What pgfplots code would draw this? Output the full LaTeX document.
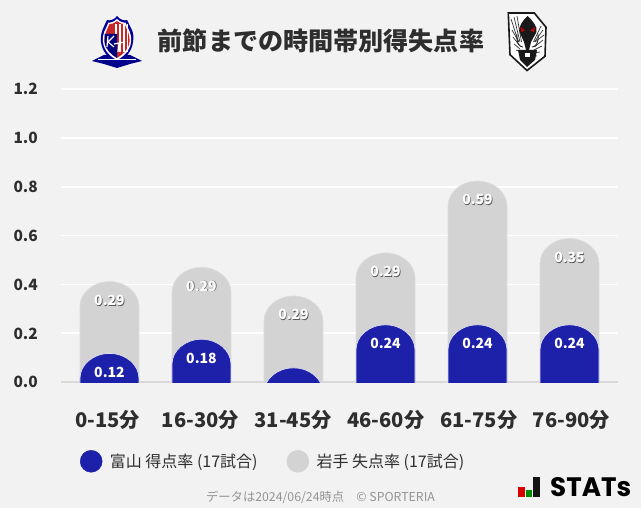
\documentclass[border=0pt]{standalone}
\usepackage{fontspec}
\usepackage{graphicx}
\usepackage{pgfplots}
\usepackage{pgfplotstable}
\pgfplotsset{compat=1.18}
\setmainfont{Noto Sans CJK JP}
\newfontfamily\logofont{Poppins}
\definecolor{bgc}{HTML}{F2F2F2}
\definecolor{bluec}{HTML}{1D20A8}
\definecolor{grayc}{HTML}{D3D3D3}
\definecolor{grayedge}{HTML}{DEDEDE}
\definecolor{txtc}{HTML}{2E2E2E}
\newcommand{\fs}[1]{\fontsize{#1pt}{#1pt}\selectfont}
\pgfplotstableread{
x goals conceded glabel clabel
0 0.118 0.294 0.12 0.29
1 0.176 0.294 0.18 0.29
2 0.059 0.294 {} 0.29
3 0.235 0.294 0.24 0.29
4 0.235 0.588 0.24 0.59
5 0.235 0.353 0.24 0.35
}\ratetable
% rounded-top bar whose top sits at the data point and whose foot sits on y=0
\newcommand{\defcapsule}[3]{%
\pgfdeclareplotmark{#1}{%
  \pgfmathsetlengthmacro{\hh}{\barh pt}%
  \begin{pgfscope}
    \pgfsetfillcolor{#2}\pgfsetstrokecolor{#3}\pgfsetlinewidth{0.7pt}%
    \pgfpathrectanglecorners{\pgfpoint{-31pt}{-\hh}}{\pgfpoint{31pt}{2pt}}%
    \pgfusepath{clip}%
    \pgfpathmoveto{\pgfpoint{-29.5pt}{-\hh-5pt}}%
    \pgfpathlineto{\pgfpoint{-29.5pt}{-25pt}}%
    \pgfpathcurveto{\pgfpoint{-29.5pt}{-11.2pt}}{\pgfpoint{-16.3pt}{0pt}}{\pgfpoint{0pt}{0pt}}%
    \pgfpathcurveto{\pgfpoint{16.3pt}{0pt}}{\pgfpoint{29.5pt}{-11.2pt}}{\pgfpoint{29.5pt}{-25pt}}%
    \pgfpathlineto{\pgfpoint{29.5pt}{-\hh-5pt}}%
    \pgfpathclose
    \pgfusepath{fill,stroke}%
  \end{pgfscope}%
}}
\defcapsule{capgray}{grayc}{grayedge}
\defcapsule{capblue}{bluec}{white!85!bluec}
\begin{document}
\begin{tikzpicture}[x=1pt,y=1pt]
\path[use as bounding box] (0,0) rectangle (641,508);
\fill[bgc] (0,0) rectangle (641,508);

\begin{axis}[
  at={(61pt,125.7pt)}, anchor=south west,
  scale only axis, width=557pt, height=293.4pt,
  xmin=-0.527, xmax=5.527, ymin=0, ymax=1.2,
  clip=false,
  axis x line=bottom, axis y line=left,
  axis line style={-},
  y axis line style={draw=none},
  x axis line style={draw=black!15, line width=1.6pt},
  tick style={draw=none},
  ymajorgrids, grid style={white, line width=1.8pt},
  ytick={0,0.2,0.4,0.6,0.8,1.0,1.2},
  yticklabel style={/pgf/number format/fixed, /pgf/number format/fixed zerofill,
    /pgf/number format/precision=1, /pgf/number format/assume math mode=true,
    font=\fs{15.5}\bfseries, text=txtc, xshift=-17.5pt},
  xtick={-0.022,0.987,1.995,3.004,4.013,5.022},
  xticklabels={0-15分,16-30分,31-45分,46-60分,61-75分,76-90分},
  xticklabel style={font=\fs{20.2}\bfseries, text=txtc, yshift=-22.5pt},
  legend columns=2,
  legend cell align=left,
  legend style={at={(19pt,-79pt)}, anchor=west, draw=none, fill=none,
    font=\fs{16}, text=txtc, inner sep=0pt, outer sep=0pt,
    /tikz/every even column/.append style={column sep=27pt},
    nodes={inner sep=2pt}},
  every node near coord/.append style={anchor=center, yshift=-18.7pt, font=\fs{14}\bfseries, text=white},
]
\addlegendimage{legend image code/.code={\fill[bluec] (0pt,0pt) ++(11pt,0pt) circle (11pt);}}
\addlegendentry{\hspace{5.5pt}富山 得点率 (17試合)}
\addlegendimage{legend image code/.code={\fill[grayc] (0pt,0pt) ++(11pt,0pt) circle (11pt);}}
\addlegendentry{\hspace{5.5pt}岩手 失点率 (17試合)}

% conceded rate, stacked on the goals rate
\addplot[only marks, mark=capgray, scatter, scatter src=y, forget plot,
  visualization depends on={244.5*(\thisrow{goals}+\thisrow{conceded}) \as \barh},
] table[x=x, y expr=\thisrow{goals}+\thisrow{conceded}] {\ratetable};
% goals rate
\addplot[only marks, mark=capblue, scatter, scatter src=y, forget plot,
  visualization depends on={244.5*\thisrow{goals} \as \barh},
] table[x=x, y=goals] {\ratetable};
% value labels
\addplot[only marks, mark=none, forget plot, point meta=explicit symbolic, nodes near coords,
  every node near coord/.append style={text=black!65, xshift=0.7pt, yshift=-0.7pt},
] table[x=x, y expr=\thisrow{goals}+\thisrow{conceded}, meta=clabel] {\ratetable};
\addplot[only marks, mark=none, forget plot, point meta=explicit symbolic, nodes near coords,
] table[x=x, y expr=\thisrow{goals}+\thisrow{conceded}, meta=clabel] {\ratetable};
\addplot[only marks, mark=none, forget plot, point meta=explicit symbolic, nodes near coords,
] table[x=x, y=goals, meta=glabel] {\ratetable};
\end{axis}

\begin{scope}[shift={(0,508)}, yscale=-1]
% left crest
\fill[blue!55!black] (92,61) -- (104,55) -- (130,55) -- (142,61) -- (130,64) -- (117,68) -- (104,64) -- cycle;
\fill[blue!60!black] (117,16) .. controls (120,20) and (125,21) .. (127,20)
  .. controls (130,27) and (135,32) .. (133,42) .. controls (132,52) and (124,60) .. (117,63)
  .. controls (110,60) and (102,52) .. (101,42) .. controls (100,32) and (104,27) .. (107,20)
  .. controls (110,21) and (114,20) .. (117,16) -- cycle;
\fill[white] (117,19) .. controls (120,22) and (124,23) .. (125.5,22.5)
  .. controls (128,29) and (132,33) .. (131,42) .. controls (130,51) and (123,57) .. (117,60)
  .. controls (111,57) and (104,51) .. (103,42) .. controls (102,33) and (106,29) .. (108.5,22.5)
  .. controls (110,23) and (114,22) .. (117,19) -- cycle;
\fill[red!75!black!85] (117,21) .. controls (120,23.5) and (123,24.5) .. (124.5,24)
  .. controls (127,30) and (130,34) .. (129.5,42) .. controls (128.5,50) and (122,55) .. (117,58)
  .. controls (112,55) and (105.5,50) .. (104.5,42) .. controls (104,34) and (107,30) .. (109.5,24)
  .. controls (111,24.5) and (114,23.5) .. (117,21) -- cycle;
\foreach \xx in {115,119,123,126.5}{\fill[white] (\xx,24) rectangle (\xx+1.6,52);}
\fill[blue!50!black] (104.5,34) -- (117,34) -- (117,58) .. controls (112,55) and (105.5,50) .. (104.5,42) -- cycle;
\draw[white, line width=1.2pt] (108,36) -- (107,47) (108,42) -- (114,36) (108,42) -- (114,47);
\draw[white, line width=1.2pt] (114,44) -- (125,42) (119,43) -- (118,52);
\fill[white] (98,59.3) -- (136,59.3) -- (136,60.5) -- (98,60.5) -- cycle;
% right crest
\fill[white] (508.3,13) -- (534.3,13) -- (546,27.3) -- (545,56.3) -- (527,70.5) -- (510,54.7) -- cycle;
\draw[white!10!black, line width=1.6pt, line join=miter] (508.3,13) -- (534.3,13) -- (546,27.3) -- (545,56.3) -- (527,70.5) -- (510,54.7) -- cycle;
\foreach \a/\b in {511/19,514/17,517/16,541/26,543/30,544/35}{\draw[black!80, line width=0.7pt] (\a,\b) -- (\a/2+526/2,42);}
\foreach \a/\b in {512/30,513/37,514/44,516/50,543/40,542/46,540/52,537/56}{\draw[black!80, line width=0.7pt] (\a,\b) -- (\a/2+526/2,\b/2+27);}
\fill[black!90] (527.5,16) .. controls (532,20) and (538,27) .. (536.5,32) -- (531,42) -- (529,50) -- (526,50) -- (524,42) -- (519.5,32) .. controls (518,27) and (523,20) .. (527.5,16) -- cycle;
\fill[red!80!black] (520.5,27) -- (525,30.5) -- (521.5,32) -- cycle;
\fill[red!80!black] (535,27) -- (530.5,30.5) -- (534,32) -- cycle;
\fill[black!90] (518,50) -- (537,50) -- (535,60) -- (527,67) -- (520,60) -- cycle;
\fill[white] (525,53) rectangle (530,57);
\draw[black!85, line width=0.9pt] (517,34) .. controls (516,44) and (520,47) .. (523,47);
\draw[black!85, line width=0.9pt] (538,34) .. controls (539,44) and (535,47) .. (532,47);
% STATs logo
\fill[red!85!black] (518,486.7) rectangle (524.5,497);
\fill[green!55!black] (525.7,490) rectangle (531.7,497);
\fill[black!92] (533,477) rectangle (539.5,497);
\end{scope}

\node[anchor=center, text=txtc, font=\fs{25.1}\bfseries, inner sep=0pt] at (321,467.5) {前節までの時間帯別得失点率};
\node[anchor=center, text=black!42, font=\fs{12.3}, inner sep=0pt] at (320.5,11) {データは2024/06/24時点　© SPORTERIA};
\node[anchor=south west, inner sep=0pt] at (550,11) {\resizebox{81pt}{19pt}{\logofont\bfseries STATs}};
\end{tikzpicture}
\end{document}
